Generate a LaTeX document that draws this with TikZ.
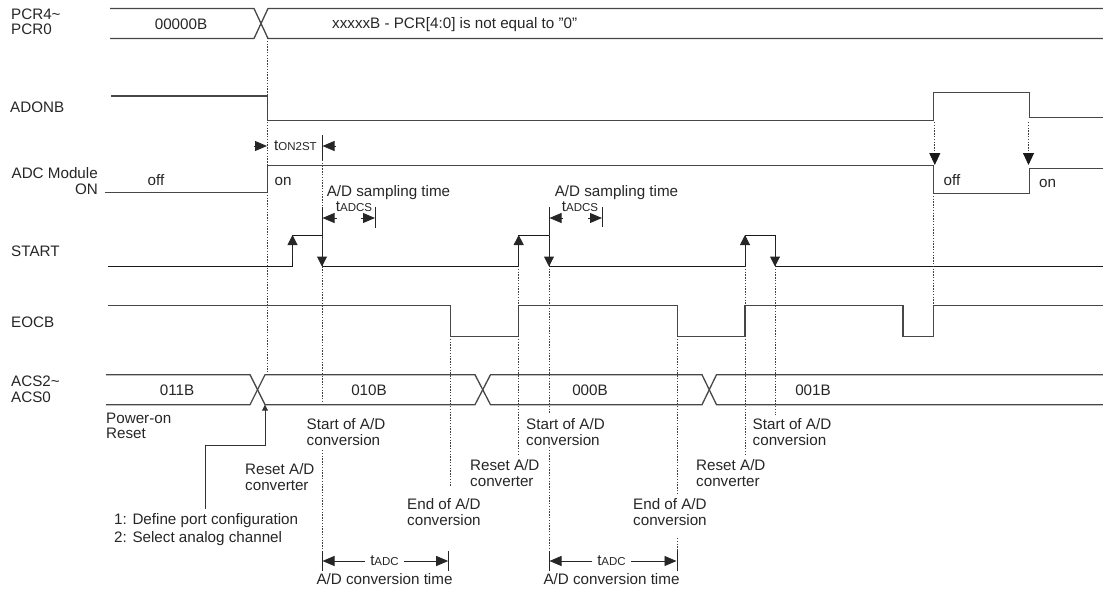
\documentclass[tikz,border=0pt]{standalone}
\usepackage{fontspec}
\setmainfont{Liberation Sans}
\usetikzlibrary{arrows.meta}
\tikzset{
  wave/.style={draw=black!72,line width=1.3pt,line join=miter},
  pulse/.style={draw=black!90,line width=1pt,line join=miter},
  tick/.style={draw=black!85,line width=0.9pt},
  guide/.style={draw=black!75,line width=0.9pt,dash pattern=on 1.4pt off 1.4pt},
  edgearrow/.style={draw=black!85,line width=1pt,-{Triangle[length=10pt,width=10pt]}},
  dimarrow/.style={draw=black!85,line width=0.9pt,-{Triangle[length=12pt,width=10pt]}},
  lbl/.style={inner sep=0pt,anchor=north west,align=left,text=black!85,font=\fontsize{15.2}{15.4}\selectfont},
  ctr/.style={lbl,anchor=center,align=center},
}
\newcommand{\subt}[1]{t{\fontsize{11.5}{11.5}\selectfont #1}}
\begin{document}
\begin{tikzpicture}[x=1pt,y=-1pt]
\useasboundingbox (0,0) rectangle (1103,590);
% buses
\draw[wave] (110,8.5) -- (254,8.5) -- (268,38.5) -- (1103,38.5);
\draw[wave] (110,38.5) -- (254,38.5) -- (268,8.5) -- (1103,8.5);
\draw[wave] (106,374.7) -- (250,374.7) -- (265,404.7) -- (475,404.7) -- (490.5,374.7) -- (702,374.7) -- (716.5,404.7) -- (1103,404.7);
\draw[wave] (106,404.7) -- (250,404.7) -- (265,374.7) -- (475,374.7) -- (490.5,404.7) -- (702,404.7) -- (716.5,374.7) -- (1103,374.7);
% levels
\draw[wave] (111,96) -- (267.3,96) -- (267.3,120.5) -- (933.7,120.5) -- (933.7,92.7) -- (1029.3,92.7) -- (1029.3,117.7) -- (1103,117.7);
\draw[wave] (105,192.7) -- (267.3,192.7) -- (267.3,165.7) -- (933.7,165.7) -- (933.7,193.3) -- (1029.3,193.3) -- (1029.3,168.7) -- (1103,168.7);
\draw[pulse] (108,266.5) -- (292.5,266.5) -- (292.5,235) -- (322,235) -- (322,266.5) -- (518.7,266.5) -- (518.7,235) -- (549,235) -- (549,266.5) -- (745,266.5) -- (745,235) -- (775,235) -- (775,266.5) -- (1103,266.5);
\draw[wave] (108,305.7) -- (450.7,305.7) -- (450.7,336.7) -- (518.7,336.7) -- (518.7,305.7) -- (677.3,305.7) -- (677.3,336.7) -- (745,336.7) -- (745,305.7) -- (903,305.7) -- (903,336.7) -- (933.7,336.7) -- (933.7,305.7) -- (1103,305.7);
% guides
\draw[guide] (267.3,38) -- (267.3,372);
\draw[guide] (322,160) -- (322,405) (322,450) -- (322,551);
\draw[guide] (549,235) -- (549,413) (549,447) -- (549,551);
\draw[guide] (518.7,266) -- (518.7,455);
\draw[guide] (745,266) -- (745,455);
\draw[guide] (775,266) -- (775,415);
\draw[guide] (450.7,336) -- (450.7,487);
\draw[guide] (677.3,336) -- (677.3,493) (677.3,538) -- (677.3,551);
\draw[guide] (933.7,193) -- (933.7,305);
\coordinate (a1s) at (934.8,122); \coordinate (a1e) at (934.8,165);
\coordinate (a2s) at (1028.5,122); \coordinate (a2e) at (1028.5,165);
\draw[guide,-{Triangle[length=12pt,width=11pt,color=black!90]}] (a1s) -- (a1e);
\draw[guide,-{Triangle[length=12pt,width=11pt,color=black!90]}] (a2s) -- (a2e);
% edge arrows
\draw[edgearrow] (292.5,262) -- (292.5,235);
\draw[edgearrow] (518.7,262) -- (518.7,235);
\draw[edgearrow] (745,262) -- (745,235);
\draw[edgearrow] (322,240) -- (322,266.5);
\draw[edgearrow] (549,240) -- (549,266.5);
\draw[edgearrow] (775,240) -- (775,266.5);
% ticks
\draw[tick] (322,135) -- (322,160);
\draw[tick] (322,207) -- (322,235) (375.5,207) -- (375.5,228);
\draw[tick] (549,207) -- (549,235) (602.3,207) -- (602.3,227);
\draw[tick] (322,551) -- (322,571) (448.7,551) -- (448.7,571);
\draw[tick] (549,551) -- (549,571) (677,551) -- (677,571);
% dimension arrows
\draw[dimarrow] (254,146) -- (267,146);
\draw[dimarrow] (336,146) -- (322.5,146);
\draw[dimarrow] (337,218) -- (322.5,218);
\draw[dimarrow] (361,218) -- (375,218);
\draw[dimarrow] (563,218) -- (549.5,218);
\draw[dimarrow] (588,218) -- (602,218);
\draw[dimarrow] (365,561) -- (322.5,561);
\draw[dimarrow] (404,561) -- (448.2,561);
\draw[dimarrow] (592,561) -- (549.5,561);
\draw[dimarrow] (631,561) -- (676.5,561);
% callout
\coordinate (rst) at (265,404.7);
\draw[draw=black!80,line width=1pt,-{Triangle[length=6pt,width=6pt]}] (205,509) -- (205,445) -- (265,445) -- (rst);
% labels
\node[lbl] (pcr) at (11,8.5) {PCR4\textasciitilde\\PCR0};
\node[lbl] (adonb) at (10,101.5) {ADONB};
\node[lbl,anchor=north east,align=right] (adc) at (98,167.5) {ADC Module\\ON};
\node[lbl] (start) at (11,245.5) {START};
\node[lbl] (eocb) at (11,316.5) {EOCB};
\node[lbl] (acs) at (11,376) {ACS2\textasciitilde\\ACS0};
\node[ctr] (v1) at (181,24) {00000B};
\node[lbl] (v2) at (332,17.5) {xxxxxB - PCR[4:0] is not equal to "0"};
\node[ctr] (off1) at (156,180) {off};
\node[ctr] (on1) at (283,181) {on};
\node[ctr] (off2) at (952,180) {off};
\node[ctr] (on2) at (1047.5,183) {on};
\node[lbl] (ton) at (274,140) {\subt{ON2ST}};
\node[ctr] (s1) at (388.5,192.5) {A/D sampling time};
\node[ctr] (s2) at (616.5,192.5) {A/D sampling time};
\node[ctr] (ts1) at (354,207) {\subt{ADCS}};
\node[ctr] (ts2) at (580,207) {\subt{ADCS}};
\node[ctr] (b1) at (177,390) {011B};
\node[ctr] (b2) at (369,390) {010B};
\node[ctr] (b3) at (590,390) {000B};
\node[ctr] (b4) at (813,390) {001B};
\node[lbl] (por) at (106,412.5) {Power-on\\Reset};
\node[lbl] (st1) at (306.5,418.5) {Start of A/D\\conversion};
\node[lbl] (st2) at (526,418.5) {Start of A/D\\conversion};
\node[lbl] (st3) at (752.5,418.5) {Start of A/D\\conversion};
\node[lbl] (rs1) at (245,463.5) {Reset A/D\\converter};
\node[lbl] (rs2) at (470,459.5) {Reset A/D\\converter};
\node[lbl] (rs3) at (696,459.5) {Reset A/D\\converter};
\node[lbl] (en1) at (407,498.5) {End of A/D\\conversion};
\node[lbl] (en2) at (633,498.5) {End of A/D\\conversion};
\node[lbl,font=\fontsize{15.2}{18}\selectfont] (cfg) at (114,513.5) {1: Define port configuration\\2: Select analog channel};
\node[ctr] (t1) at (384.5,561) {\subt{ADC}};
\node[ctr] (t2) at (611.5,561) {\subt{ADC}};
\node[ctr] (c1) at (384.5,579.5) {A/D conversion time};
\node[ctr] (c2) at (611.5,579.5) {A/D conversion time};
\end{tikzpicture}
\end{document}
